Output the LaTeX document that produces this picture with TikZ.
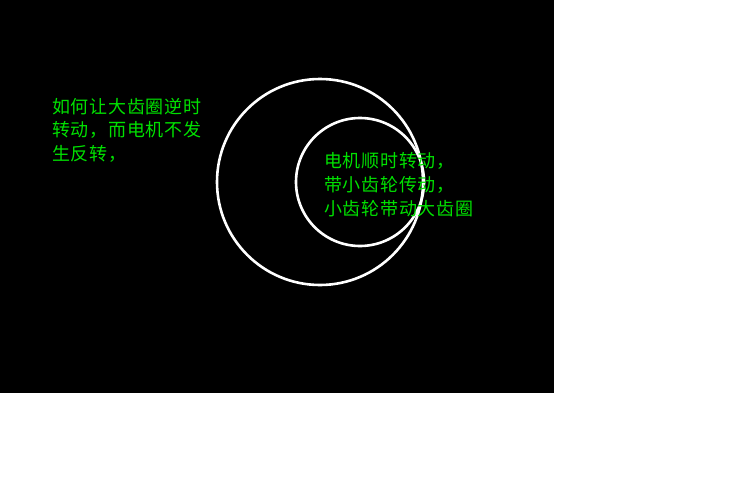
\documentclass[tikz,border=0pt]{standalone}
\usepackage{fontspec}
\newfontfamily\cjk[LetterSpace=4]{Noto Sans CJK SC}
\definecolor{txtgreen}{RGB}{0,225,0}
\tikzset{
  ring/.style={circle,draw=white,line width=2.6pt,inner sep=0pt},
  label/.style={anchor=base west,inner sep=0pt,text=txtgreen,font=\cjk\fontsize{18pt}{20pt}\selectfont}
}
\begin{document}
\begin{tikzpicture}[x=1pt,y=1pt]
\useasboundingbox (0,0) rectangle (751,-487);
\fill[white] (0,0) rectangle (751,-487);
\fill[black] (0,0) rectangle (554,-393);
\node[ring,minimum size=206pt] (bigring) at (320,-182) {};
\node[ring,minimum size=128pt] (smallring) at (360,-182) {};
\node[label] (l1) at (52,-113) {如何让大齿圈逆时};
\node[label] (l2) at (52,-136.5) {转动，而电机不发};
\node[label] (l3) at (52,-160.5) {生反转，};
\node[label] (r1) at (324,-167) {电机顺时转动，};
\node[label] (r2) at (324,-191.5) {带小齿轮传动，};
\node[label] (r3) at (324,-215.5) {小齿轮带动大齿圈};
\end{tikzpicture}
\end{document}
